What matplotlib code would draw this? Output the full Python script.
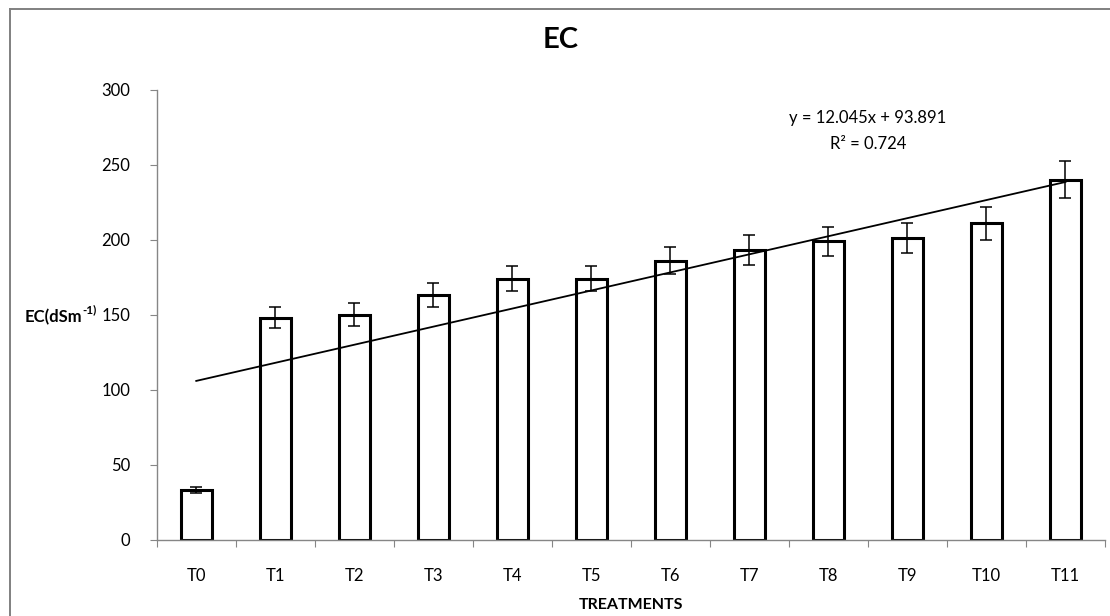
import numpy as np
import matplotlib
matplotlib.use('Agg')
import matplotlib.pyplot as plt
from matplotlib.lines import Line2D

plt.rcParams['font.family'] = ['Lato', 'DejaVu Sans']

# data
treatments = ['T0', 'T1', 'T2', 'T3', 'T4', 'T5', 'T6', 'T7', 'T8', 'T9', 'T10', 'T11']
ec_mean = [33, 148, 150, 163, 174, 174, 186, 193, 199, 201, 211, 240]
ec_err = [2, 7, 7.5, 8, 8.5, 8.5, 9, 10, 9.7, 10, 11, 12.5]

# linear trend shown on the chart
slope = 12.045
intercept = 93.891
r2 = 0.724

fig = plt.figure(figsize=(11.1, 6.16), dpi=100)
ax = fig.add_axes([0.1412, 0.1234, 0.8543, 0.7313])

x = np.arange(len(treatments))
ax.bar(x, ec_mean, width=0.39, color='white', edgecolor='black', linewidth=2.2, zorder=2)
ax.errorbar(x, ec_mean, yerr=ec_err, fmt='none', ecolor='black', elinewidth=1.1,
            capsize=4, capthick=1.1, zorder=3)

trend = slope * (x + 1) + intercept
ax.plot(x, trend, color='black', linewidth=1.3, zorder=4)

ax.text(8.5, 281, 'y = %.3fx + %.3f' % (slope, intercept), ha='center', va='center', fontsize=12)
ax.text(8.5, 264, 'R² = %.3f' % r2, ha='center', va='center', fontsize=12)

ax.set_xlim(-0.5, len(treatments) - 0.5)
ax.set_ylim(0, 300)
ax.set_yticks(range(0, 301, 50))
ax.set_xticks(np.arange(len(treatments) + 1) - 0.5, minor=False)
ax.set_xticklabels([])
ax.set_xticks(x, minor=True)
ax.set_xticklabels(treatments, minor=True)
ax.tick_params(axis='x', which='major', length=5, color='#868686', direction='out')
ax.tick_params(axis='x', which='minor', length=0, pad=20, labelsize=12)
ax.tick_params(axis='y', length=5, color='#868686', pad=14, labelsize=12)

for s in ['top', 'right']:
    ax.spines[s].set_visible(False)
for s in ['left', 'bottom']:
    ax.spines[s].set_color('#868686')
    ax.spines[s].set_linewidth(1.0)

fig.text(0.505, 0.935, 'EC', ha='center', va='center', fontsize=21, fontweight='bold')
ax.set_xlabel('TREATMENTS', fontsize=11.5, fontweight='bold', labelpad=10)
ylab = fig.text(25 / 1110, 1 - 317 / 616, 'EC(dSm', ha='left', va='center', fontsize=12, fontweight='bold')
ax.annotate('-1)', xy=(1, 0.62), xycoords=ylab, ha='left', va='bottom', fontsize=8.5,
            fontweight='bold', annotation_clip=False)

# chart frame (left and top edges only are visible)
fig.add_artist(Line2D([10 / 1110, 10 / 1110], [0, 1 - 9 / 616], transform=fig.transFigure,
                      color='#808080', linewidth=1.4))
fig.add_artist(Line2D([10 / 1110, 1], [1 - 9 / 616, 1 - 9 / 616], transform=fig.transFigure,
                      color='#808080', linewidth=1.4))

fig.savefig('out.png', dpi=100)
